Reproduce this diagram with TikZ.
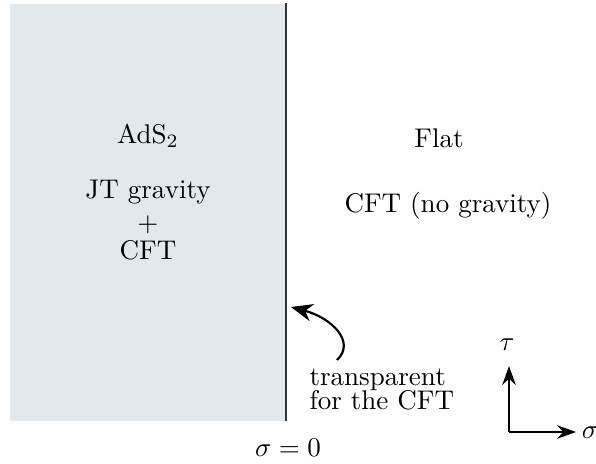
\documentclass[tikz,border=0pt]{standalone}
\usetikzlibrary{arrows.meta}
\definecolor{adsgrey}{HTML}{E2E9EC}
\definecolor{walldark}{HTML}{333333}
\begin{document}
\begin{tikzpicture}[x=0.37pt,y=-0.37pt,
  lbl/.style={inner sep=0pt,anchor=base},
  axisarrow/.style={-{Stealth[length=7pt,width=5pt]},line width=0.7pt},
  notearrow/.style={-{Stealth[length=8pt,width=6.5pt]},line width=0.8pt}]
\useasboundingbox (0,0) rectangle (596,463);
\fill[adsgrey] (10,4) rectangle (286,421);
\coordinate (wtop) at (286,3);
\coordinate (wbot) at (286,421);
\draw[walldark,line width=0.9pt] (wtop) -- (wbot);
\node[lbl] (ads) at (148,143) {AdS$_2$};
\node[lbl] (jt) at (148,198) {JT gravity};
\node[lbl] (plus) at (148,231) {+};
\node[lbl] (cftl) at (148,259) {CFT};
\node[lbl] (flat) at (439,147) {Flat};
\node[lbl] (cftr) at (448,212) {CFT (no gravity)};
\node[lbl,anchor=base west] (tr1) at (309,385) {transparent};
\node[lbl,anchor=base west] (tr2) at (309,409) {for the CFT};
\node[lbl] (sig0) at (288,456) {$\sigma=0$};
\coordinate (tail) at (337,360);
\coordinate (tip) at (291,307);
\draw[notearrow] (tail) .. controls (356,342) and (332,318) .. (tip);
\coordinate (orig) at (509,432);
\coordinate (up) at (509,366);
\coordinate (right) at (576,432);
\draw[axisarrow] (orig) -- (up);
\draw[axisarrow] (orig) -- (right);
\node[lbl] (tau) at (507,350) {$\tau$};
\node[lbl] (sig) at (590,438) {$\sigma$};
\end{tikzpicture}
\end{document}
